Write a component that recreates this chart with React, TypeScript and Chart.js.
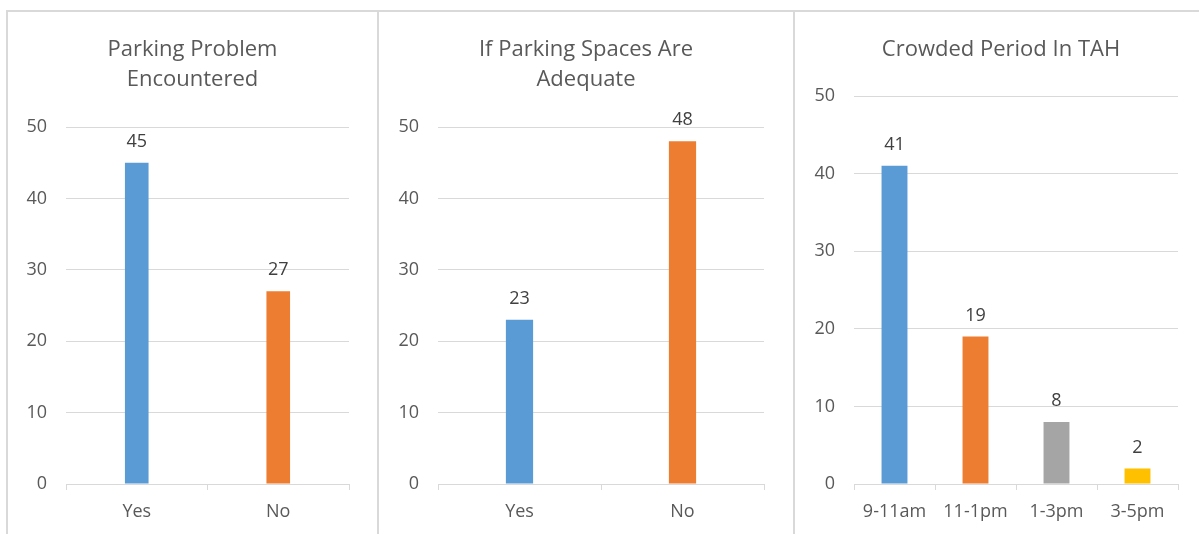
import React, { useEffect, useRef } from "react";
import { Chart, registerables } from "chart.js";

Chart.register(...registerables);

const chart1Title = ["Parking Problem", "Encountered"];
const chart1Categories = ["Yes", "No"];
const chart1Values = [45, 27];

const chart2Title = ["If Parking Spaces Are", "Adequate"];
const chart2Categories = ["Yes", "No"];
const chart2Values = [23, 48];

const chart3Title = ["Crowded Period In TAH"];
const chart3Categories = ["9-11am", "11-1pm", "1-3pm", "3-5pm"];
const chart3Values = [41, 19, 8, 2];

const yTicks1 = [0, 10, 20, 30, 40, 50];
const colors = ["#5B9BD5", "#ED7D31", "#A5A5A5", "#FFC000"];

const FONT = "'Open Sans', 'Noto Sans', sans-serif";
const GRID = "#d9d9d9";
const TEXT = "#595959";

const valueLabels = {
  id: "valueLabels",
  afterDatasetsDraw(chart: any) {
    const ctx = chart.ctx;
    ctx.save();
    ctx.font = `18px ${FONT}`;
    ctx.fillStyle = "#404040";
    ctx.textAlign = "center";
    ctx.textBaseline = "middle";
    chart.data.datasets.forEach((ds: any, di: number) => {
      const meta = chart.getDatasetMeta(di);
      meta.data.forEach((el: any, i: number) => {
        ctx.fillText(String(ds.data[i]), el.x, el.y - 21);
      });
    });
    ctx.restore();
  },
};

type Spec = {
  title: string[];
  categories: string[];
  values: number[];
  barPct: number;
  yWidth: number;
  padRight: number;
  titleCenter: number;
  titlePadTop: number;
  titlePadBottom: number;
};

function BarPanel({ spec, left, width }: { spec: Spec; left: number; width: number }) {
  const ref = useRef<HTMLCanvasElement>(null);
  useEffect(() => {
    if (!ref.current) return;
    const centerTitle = {
      id: "centerTitle",
      afterLayout(chart: any) {
        if (chart.titleBlock) {
          chart.titleBlock.left = 0;
          chart.titleBlock.right = spec.titleCenter * 2;
        }
      },
    };
    const chart = new Chart(ref.current, {
      type: "bar",
      data: {
        labels: spec.categories,
        datasets: [
          {
            data: spec.values,
            backgroundColor: spec.values.map((_, i) => colors[i % colors.length]),
            barPercentage: spec.barPct,
            categoryPercentage: 1,
          },
        ],
      },
      options: {
        animation: false,
        responsive: false,
        maintainAspectRatio: false,
        layout: { padding: { left: 0, right: spec.padRight, top: 0, bottom: 0 } },
        plugins: {
          legend: { display: false },
          tooltip: { enabled: false },
          title: {
            display: true,
            text: spec.title,
            color: TEXT,
            font: { family: FONT, size: 22, weight: "normal", lineHeight: 30 / 22 },
            padding: { top: spec.titlePadTop, bottom: spec.titlePadBottom },
          },
        },
        scales: {
          x: {
            offset: true,
            grid: {
              offset: true,
              drawOnChartArea: false,
              drawTicks: true,
              tickLength: 6,
              color: GRID,
            },
            border: { display: true, color: GRID, width: 1 },
            ticks: {
              color: TEXT,
              font: { family: FONT, size: 18 },
              padding: 11,
              maxRotation: 0,
            },
            afterFit: (s: any) => {
              s.height = 50;
            },
          },
          y: {
            min: 0,
            max: 50,
            grid: { color: GRID, drawTicks: false },
            border: { display: false },
            ticks: {
              stepSize: 10,
              color: TEXT,
              font: { family: FONT, size: 18 },
              padding: 19,
            },
            afterBuildTicks: (s: any) => {
              s.ticks = yTicks1.map((v) => ({ value: v }));
            },
            afterFit: (s: any) => {
              s.width = spec.yWidth;
            },
          },
        },
      },
      plugins: [valueLabels, centerTitle],
    });
    return () => chart.destroy();
  }, []);
  return (
    <canvas
      ref={ref}
      width={width}
      height={522}
      style={{ position: "absolute", left, top: 12, width, height: 522 }}
    />
  );
}

export default function App() {
  const line = (style: React.CSSProperties) => (
    <div style={{ position: "absolute", background: GRID, ...style }} />
  );
  return (
    <div
      style={{
        position: "absolute",
        left: 0,
        top: 0,
        width: 1199,
        height: 534,
        background: "#ffffff",
        overflow: "hidden",
      }}
    >
      {line({ left: 6, top: 10, width: 1193, height: 2 })}
      {line({ left: 6, top: 10, width: 2, height: 524 })}
      {line({ left: 377, top: 10, width: 2, height: 524 })}
      {line({ left: 793, top: 10, width: 2, height: 524 })}
      <BarPanel
        left={8}
        width={369}
        spec={{
          title: chart1Title,
          categories: chart1Categories,
          values: chart1Values,
          barPct: 0.167,
          yWidth: 58,
          padRight: 28,
          titleCenter: 184.5,
          titlePadTop: 23,
          titlePadBottom: 32,
        }}
      />
      <BarPanel
        left={379}
        width={414}
        spec={{
          title: chart2Title,
          categories: chart2Categories,
          values: chart2Values,
          barPct: 0.167,
          yWidth: 59,
          padRight: 29,
          titleCenter: 207,
          titlePadTop: 23,
          titlePadBottom: 32,
        }}
      />
      <BarPanel
        left={795}
        width={404}
        spec={{
          title: chart3Title,
          categories: chart3Categories,
          values: chart3Values,
          barPct: 0.32,
          yWidth: 59,
          padRight: 21,
          titleCenter: 206,
          titlePadTop: 23,
          titlePadBottom: 31,
        }}
      />
    </div>
  );
}
